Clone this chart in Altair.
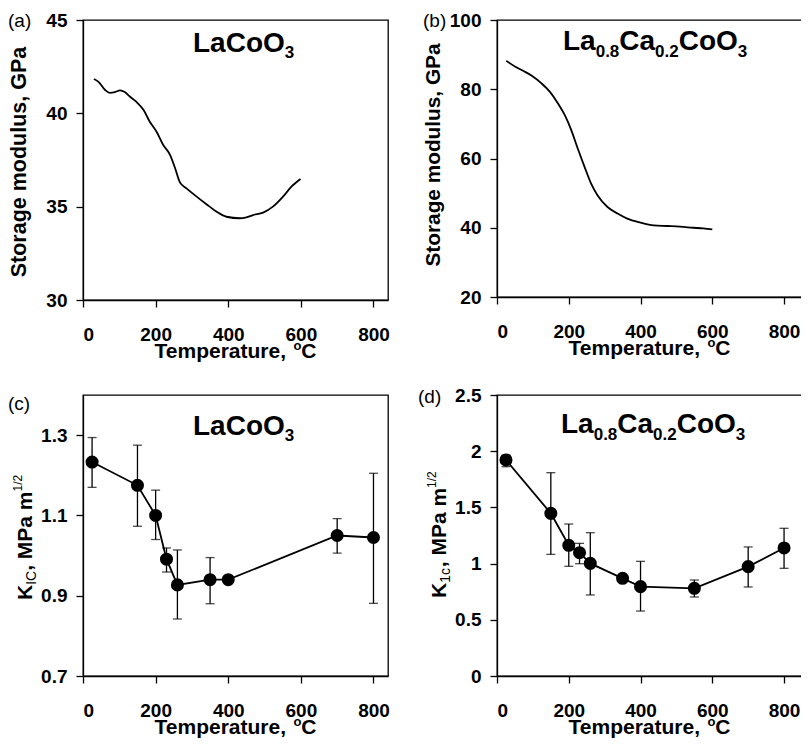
import altair as alt
import pandas as pd

FONT = "Liberation Sans"

# ---------------- data ----------------
T_a = [30, 42, 61, 74, 88, 102, 115, 129, 148, 166, 184, 203, 221, 239, 253, 267, 285, 313, 340, 368, 395, 432, 450, 468, 496, 523, 551, 574, 599]
E_a = [41.84, 41.7, 41.25, 41.1, 41.14, 41.23, 41.14, 40.9, 40.6, 40.2, 39.55, 39.0, 38.3, 37.8, 37.1, 36.3, 35.98, 35.54, 35.13, 34.73, 34.46, 34.38, 34.43, 34.55, 34.68, 35.0, 35.54, 36.07, 36.48]

T_b = [26, 51, 74, 97, 124, 147, 170, 189, 207, 225, 244, 262, 280, 308, 336, 363, 400, 437, 474, 510, 547, 575, 600]
E_b = [88.2, 86.5, 85.25, 83.9, 81.7, 79.3, 75.9, 72.5, 68.2, 62.9, 57.6, 52.8, 49.4, 46.0, 44.1, 42.65, 41.5, 40.7, 40.5, 40.3, 40.0, 39.8, 39.5]

T_c = [25, 150, 200, 230, 260, 350, 400, 700, 800]
K_c = [1.233, 1.175, 1.100, 0.991, 0.927, 0.940, 0.940, 1.050, 1.045]
lo_c = [1.170, 1.073, 1.040, 0.959, 0.842, 0.880, 0.933, 1.006, 0.881]
hi_c = [1.294, 1.275, 1.163, 1.019, 1.014, 0.995, 0.947, 1.092, 1.205]

T_d = [25, 150, 200, 230, 260, 350, 400, 550, 700, 800]
K_d = [1.922, 1.447, 1.163, 1.097, 1.002, 0.869, 0.795, 0.780, 0.973, 1.139]
lo_d = [1.862, 1.082, 0.976, 0.999, 0.721, 0.850, 0.578, 0.703, 0.792, 0.958]
hi_d = [1.966, 1.809, 1.352, 1.180, 1.275, 0.890, 1.020, 0.854, 1.148, 1.314]

x_ticks = [0, 200, 400, 600, 800]
y_ticks_a = [30, 35, 40, 45]
y_ticks_b = [20, 40, 60, 80, 100]
y_ticks_c = [0.7, 0.9, 1.1, 1.3]
y_ticks_d = [0, 0.5, 1, 1.5, 2, 2.5]

df_a = pd.DataFrame({"T": T_a, "E": E_a})
df_b = pd.DataFrame({"T": T_b, "E": E_b})
df_c = pd.DataFrame({"T": T_c, "K": K_c, "lo": lo_c, "hi": hi_c})
df_d = pd.DataFrame({"T": T_d, "K": K_d, "lo": lo_d, "hi": hi_d})

# ---------------- text helpers (Arial/Liberation bold advance widths) ----------------
ADV = {"L": .611, "a": .556, "C": .722, "o": .611, "O": .778, ".": .278, "K": .722, "I": .278,
       ",": .278, " ": .278, "M": .833, "P": .667, "m": .889, "/": .278, "c": .556, "T": .611,
       "e": .556, "p": .611, "r": .389, "t": .333, "u": .611}


def tw(s, size):
    return sum(ADV.get(ch, 0.556) for ch in s) * size


DUMMY = pd.DataFrame({"d": [0]})


def txt(s, x, y, size, angle=0, align="left", baseline="alphabetic", weight="bold"):
    return alt.Chart(DUMMY).mark_text(
        text=s, font=FONT, fontSize=size, fontWeight=weight, color="black",
        align=align, baseline=baseline, angle=angle
    ).encode(x=alt.value(x), y=alt.value(y))


def hrun(pieces, x0, y0):
    out = []
    x = x0
    for s, size, dy, wt in pieces:
        out.append(txt(s, x, y0 + dy, size, weight=wt))
        x += tw(s, size)
    return out


def hrun_center(pieces, cx, y0):
    total = sum(tw(s, size) for s, size, _, _ in pieces)
    return hrun(pieces, cx - total / 2, y0)


def vrun(pieces, x0, y0):
    out = []
    y = y0
    for s, size, dx, wt in pieces:
        out.append(txt(s, x0 + dx, y, size, angle=270, weight=wt))
        y -= tw(s, size)
    return out


TEMP = [("Temperature, ", 21, 0, "bold"), ("o", 13, -8, "bold"), ("C", 21, 0, "bold")]

xs_left = alt.Scale(domain=[0, 840], nice=False, zero=False)
xs_right = alt.Scale(domain=[0, 850], nice=False, zero=False)
xaxis = alt.Axis(values=x_ticks, format="d", title=None, labelPadding=18)


def yaxis(vals, fmt):
    return alt.Axis(values=vals, format=fmt, title=None, labelPadding=9)


W = 305
SH = 4  # right column sits 4px further left than the reference, offsets compensate

# ---------------- panel (a) ----------------
Ha = 280
line_a = alt.Chart(df_a).mark_line(color="black", strokeWidth=1.8, interpolate="monotone").encode(
    x=alt.X("T:Q", scale=xs_left, axis=xaxis),
    y=alt.Y("E:Q", scale=alt.Scale(domain=[30, 45], nice=False, zero=False), axis=yaxis(y_ticks_a, "d")),
)
pa = alt.layer(
    line_a,
    txt("(a)", -75, 1, 19, baseline="middle", weight="normal"),
    *hrun([("LaCoO", 28, 0, "bold"), ("3", 17, 6, "bold")], 110, 32),
    txt("Storage modulus, GPa", -57, 142, 21.5, angle=270, align="center"),
    *hrun_center(TEMP, W / 2, Ha + 58),
).properties(width=W, height=Ha)

# ---------------- panel (b) ----------------
Hb = 277
line_b = alt.Chart(df_b).mark_line(color="black", strokeWidth=1.8, interpolate="monotone").encode(
    x=alt.X("T:Q", scale=xs_right, axis=xaxis),
    y=alt.Y("E:Q", scale=alt.Scale(domain=[20, 100], nice=False, zero=False), axis=yaxis(y_ticks_b, "d")),
)
pb = alt.layer(
    line_b,
    txt("(b)", -78 + SH, 1, 19, baseline="middle", weight="normal"),
    *hrun([("La", 28, 0, "bold"), ("0.8", 17, 7, "bold"), ("Ca", 28, 0, "bold"),
           ("0.2", 17, 7, "bold"), ("CoO", 28, 0, "bold"), ("3", 17, 7, "bold")], 62 + SH, 30),
    txt("Storage modulus, GPa", -61 + SH, 135, 20.8, angle=270, align="center"),
    *hrun_center(TEMP, W / 2, Hb + 58),
).properties(width=W, height=Hb)


# ---------------- panels (c), (d) ----------------
def kpanel(df, ydom, yvals, yfmt, xs):
    ysc = alt.Scale(domain=ydom, nice=False, zero=False)
    base = alt.Chart(df)
    line = base.mark_line(color="black", strokeWidth=1.8).encode(
        x=alt.X("T:Q", scale=xs, axis=xaxis),
        y=alt.Y("K:Q", scale=ysc, axis=yaxis(yvals, yfmt)),
    )
    err = base.mark_errorbar(color="black", thickness=1.3, ticks={"size": 9, "color": "black", "thickness": 1.3}).encode(
        x=alt.X("T:Q", scale=xs),
        y=alt.Y("lo:Q", scale=ysc, title=None),
        y2="hi:Q",
    )
    pts = base.mark_circle(color="black", size=170, opacity=1).encode(
        x=alt.X("T:Q", scale=xs),
        y=alt.Y("K:Q", scale=ysc),
    )
    return [line, err, pts]


Hc = 281
pc = alt.layer(
    *kpanel(df_c, [0.7, 1.4], y_ticks_c, ".1f", xs_left),
    txt("(c)", -75, 9, 19, baseline="middle", weight="normal"),
    *hrun([("LaCoO", 28, 0, "bold"), ("3", 17, 6, "bold")], 110, 40),
    *vrun([("K", 21, 0, "bold"), ("IC", 14, 4, "normal"), (", MPa m", 21, 0, "bold"), ("1/2", 12, -10, "normal")], -51, 205),
    *hrun_center(TEMP, W / 2, Hc + 58),
).properties(width=W, height=Hc)

Hd = 281
pd_ = alt.layer(
    *kpanel(df_d, [0, 2.5], y_ticks_d, ".1~f", xs_right),
    txt("(d)", -83 + SH, 2, 19, baseline="middle", weight="normal"),
    *hrun([("La", 28, 0, "bold"), ("0.8", 17, 7, "bold"), ("Ca", 28, 0, "bold"),
           ("0.2", 17, 7, "bold"), ("CoO", 28, 0, "bold"), ("3", 17, 7, "bold")], 60 + SH, 38),
    *vrun([("K", 21, 0, "bold"), ("1c", 14, 4, "normal"), (", MPa m", 21, 0, "bold"), ("1/2", 12, -10, "normal")], -55 + SH, 203),
    *hrun_center(TEMP, W / 2, Hd + 58),
).properties(width=W, height=Hd)

chart = alt.concat(
    pa, pb, pc, pd_, columns=2, spacing={"row": 95, "column": 113 - SH}, bounds="flush"
).properties(
    autosize=alt.AutoSizeParams(type="none"),
    padding={"left": 75, "top": 12, "right": 718, "bottom": 720},
).configure_view(
    stroke="black", strokeWidth=1.3
).configure_axis(
    labelFont=FONT, labelFontWeight="bold", labelFontSize=19, labelColor="black",
    tickColor="black", tickSize=7, tickWidth=1.3, domainColor="black", domainWidth=1.3,
    grid=False,
)

chart.save("out.html", embed_options={"renderer": "svg", "actions": False})
